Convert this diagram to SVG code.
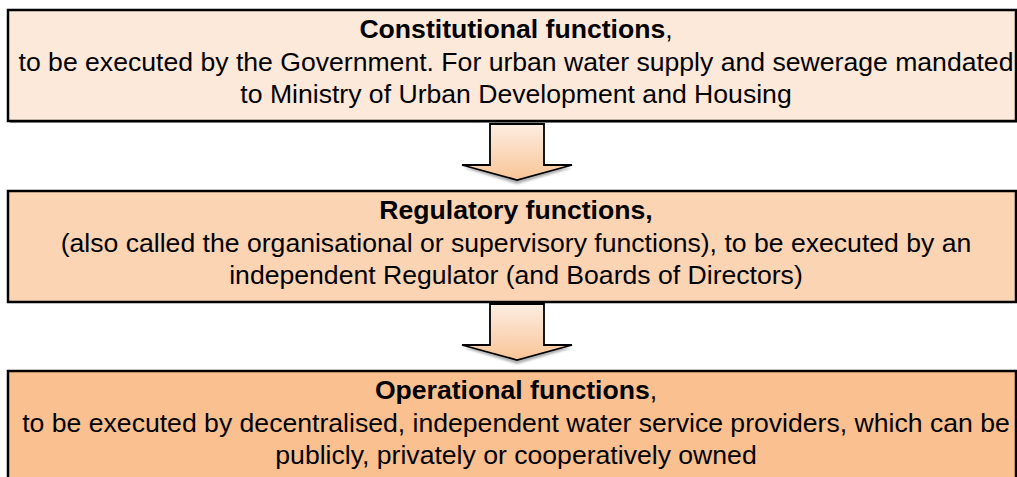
<svg xmlns="http://www.w3.org/2000/svg" width="1017" height="477" viewBox="0 0 1017 477">
<defs>
<linearGradient id="ag" x1="0" y1="0" x2="0" y2="1">
<stop offset="0" stop-color="#FDEDE2"/>
<stop offset="1" stop-color="#F9C596"/>
</linearGradient>
<filter id="blur" x="-10%" y="-50%" width="120%" height="200%"><feGaussianBlur stdDeviation="1.2"/></filter>
</defs>
<style>
.box{stroke:#000;stroke-width:2.5}
.shadow{fill:#9a9a9a}
text{font-family:"Liberation Sans",Arial,sans-serif;font-size:26.6px;fill:#000;text-anchor:middle}
.b{font-weight:bold}
.arrow{fill:url(#ag);stroke:#000;stroke-width:1.8;stroke-linejoin:miter}
.ash{fill:#b0b0b0;filter:url(#blur)}
</style>
<rect width="1017" height="477" fill="#fff"/>
<g id="constitutional">
<rect class="shadow" x="10" y="12" width="1008" height="111"/>
<rect class="box" x="8" y="10" width="1008" height="111" fill="#FDE9D9"/>
<text x="516" y="38"><tspan class="b">Constitutional functions</tspan>,</text>
<text x="516" y="71">to be executed by the Government. For urban water supply and sewerage mandated</text>
<text x="516" y="103">to Ministry of Urban Development and Housing</text>
</g>
<g id="regulatory">
<rect class="box" x="8" y="191" width="1008" height="111" fill="#FBD4B4"/>
<text class="b" x="516" y="219">Regulatory functions,</text>
<text x="516" y="252">(also called the organisational or supervisory functions), to be executed by an</text>
<text x="516" y="284">independent Regulator (and Boards of Directors)</text>
</g>
<g id="operational">
<rect class="box" x="8" y="371" width="1008" height="120" fill="#FAC090"/>
<text x="516" y="399"><tspan class="b">Operational functions</tspan>,</text>
<text x="516" y="432">to be executed by decentralised, independent water service providers, which can be</text>
<text x="516" y="464">publicly, privately or cooperatively owned</text>
</g>
<g id="connectors">
<path class="ash" d="M464 168 L572 168 L517 184 Z"/>
<path class="arrow" d="M490 124 L544 124 L544 165 L572 165 L517 180 L462 165 L490 165 Z"/>
<path class="ash" d="M464 348 L572 348 L517 364 Z"/>
<path class="arrow" d="M490 304 L544 304 L544 345 L572 345 L517 360 L462 345 L490 345 Z"/>
</g>
</svg>
